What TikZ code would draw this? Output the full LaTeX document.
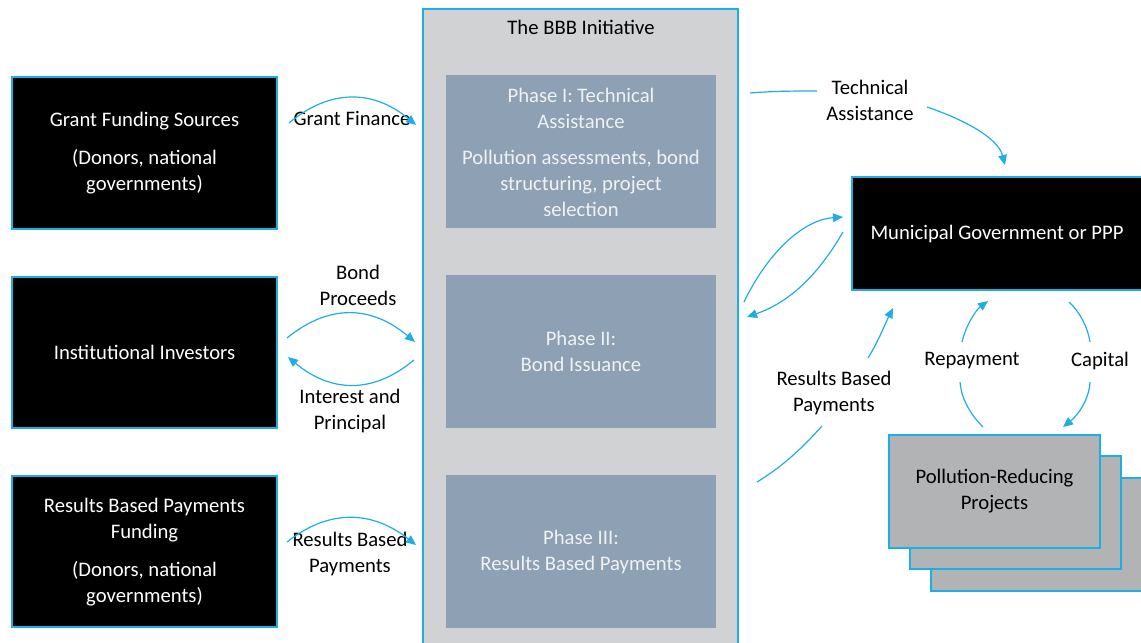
\documentclass[tikz,border=0pt]{standalone}
\usepackage{fontspec}
\setmainfont{Carlito}
\usetikzlibrary{arrows.meta}
\definecolor{cyanline}{RGB}{30,174,230}
\definecolor{bbbgray}{RGB}{208,210,211}
\definecolor{phasefill}{RGB}{141,160,180}
\definecolor{projfill}{RGB}{178,179,181}
\definecolor{phasetext}{RGB}{240,242,244}
\tikzset{
  every node/.style={font=\fontsize{15.5pt}{19.5pt}\selectfont, align=center, inner sep=0pt},
  blackbox/.style={draw=cyanline, line width=1pt, fill=black, text=white},
  phasebox/.style={fill=phasefill, text=phasetext},
  projbox/.style={draw=cyanline, line width=1pt, fill=projfill, text=black},
  lbl/.style={text=black},
  flow/.style={draw=cyanline, line width=0.9pt},
  flowarr/.style={flow, -{Triangle[length=7.5pt,width=6.5pt]}},
}
\begin{document}
\begin{tikzpicture}[x=0.75pt,y=-0.75pt]
\useasboundingbox (0,0) rectangle (1141,642);
\clip (0,0) rectangle (1141,642);
% BBB initiative container
\node[draw=cyanline, line width=1pt, fill=bbbgray, minimum width={315*0.75pt}, minimum height={645*0.75pt}] (bbb) at (580.5,331.5) {};
\node[lbl] (title) at (581,27) {The BBB Initiative};
% phases
\node[phasebox, minimum width={270*0.75pt}, minimum height={153*0.75pt}] (p1) at (581,151.5) {};
\node[text=phasetext] (p1t) at (581,152.5) {Phase I: Technical\\Assistance\\[8pt]Pollution assessments, bond\\structuring, project\\selection};
\node[phasebox, minimum width={270*0.75pt}, minimum height={153*0.75pt}] (p2) at (581,351.5) {Phase II:\\Bond Issuance};
\node[phasebox, minimum width={270*0.75pt}, minimum height={153*0.75pt}] (p3) at (581,551.5) {Phase III:\\Results Based Payments};
% left boxes
\node[blackbox, minimum width={265*0.75pt}, minimum height={152*0.75pt}] (grant) at (144.5,153) {};
\node[text=white] (grantt) at (144.5,153.5) {Grant Funding Sources\\[9pt](Donors, national\\governments)};
\node[blackbox, minimum width={265*0.75pt}, minimum height={151*0.75pt}] (inst) at (144.5,352.5) {Institutional Investors};
\node[blackbox, minimum width={265*0.75pt}, minimum height={151*0.75pt}] (rbp) at (144.5,551.5) {};
\node[text=white] (rbpt) at (144.5,552) {Results Based Payments\\Funding\\[8.5pt](Donors, national\\governments)};
% right boxes
\node[blackbox, minimum width={293*0.75pt}, minimum height={113*0.75pt}] (muni) at (998.5,233.5) {};
\node[text=white] (munit) at (997,234) {Municipal Government or PPP};
\node[projbox, minimum width={211*0.75pt}, minimum height={113*0.75pt}] (proj3) at (1036.5,534.5) {};
\node[projbox, minimum width={211*0.75pt}, minimum height={113*0.75pt}] (proj2) at (1015.5,512.5) {};
\node[projbox, minimum width={211*0.75pt}, minimum height={113*0.75pt}] (proj1) at (994.5,491.5) {Pollution-Reducing\\Projects};
% labels
\node[lbl] (lgf) at (352,118) {Grant Finance};
\node[lbl] (lbond) at (358,285) {Bond\\Proceeds};
\node[lbl] (lint) at (350,411) {Interest and\\Principal};
\node[lbl] (lres) at (350,554) {Results Based\\Payments};
\node[lbl] (lta) at (870,100) {Technical\\Assistance};
\node[lbl] (lrbp) at (834,393) {Results Based\\Payments};
\node[lbl] (lrep) at (972,361) {Repayment};
\node[lbl] (lcap) at (1100,361) {Capital};
% connector end points
\coordinate (gfA) at (289,123); \coordinate (gfB) at (416,125);
\coordinate (bdA) at (287,338); \coordinate (bdB) at (415,342);
\coordinate (inA) at (414,360); \coordinate (inB) at (288,357);
\coordinate (rsA) at (287,542); \coordinate (rsB) at (416,545);
\coordinate (taA) at (750,93); \coordinate (taB) at (817,91);
\coordinate (taC) at (927,107); \coordinate (taD) at (1005,165);
\coordinate (muA) at (744,302); \coordinate (muB) at (843,217);
\coordinate (muC) at (843,232); \coordinate (muD) at (747,317);
\coordinate (rbA) at (757,482); \coordinate (rbB) at (822,426);
\coordinate (rbC) at (868,358); \coordinate (rbD) at (893,308);
\coordinate (reA) at (983,427); \coordinate (reB) at (960,382);
\coordinate (reC) at (962,342); \coordinate (reD) at (988,301);
\coordinate (caA) at (1069,302); \coordinate (caB) at (1090,342);
\coordinate (caC) at (1090,382); \coordinate (caD) at (1063,427);
% connectors
\draw[flowarr] (gfA) .. controls (331,88) and (374,90) .. (gfB);
\draw[flowarr] (bdA) .. controls (330,303) and (372,306) .. (bdB);
\draw[flowarr] (inA) .. controls (372,395) and (330,392) .. (inB);
\draw[flowarr] (rsA) .. controls (330,508) and (373,511) .. (rsB);
\draw[flow] (taA) .. controls (775,91) and (795,91) .. (taB);
\draw[flowarr] (taC) .. controls (965,120) and (998,138) .. (taD);
\draw[flowarr] (muA) .. controls (765,258) and (800,220) .. (muB);
\draw[flowarr] (muC) .. controls (818,275) and (790,302) .. (muD);
\draw[flow] (rbA) .. controls (785,465) and (805,445) .. (rbB);
\draw[flowarr] (rbC) .. controls (878,342) and (886,322) .. (rbD);
\draw[flow] (reA) .. controls (968,412) and (961,396) .. (reB);
\draw[flowarr] (reC) .. controls (966,325) and (976,310) .. (reD);
\draw[flow] (caA) .. controls (1080,312) and (1088,328) .. (caB);
\draw[flowarr] (caC) .. controls (1089,400) and (1078,415) .. (caD);
\end{tikzpicture}
\end{document}
